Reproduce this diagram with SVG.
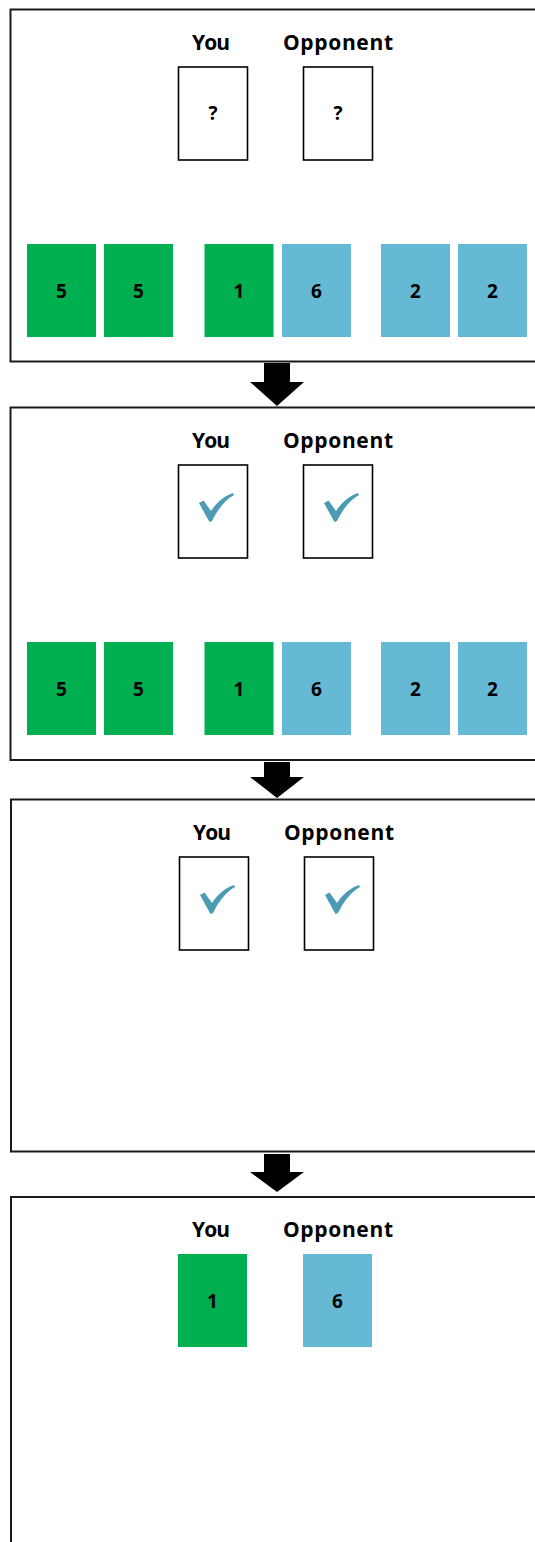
<svg xmlns="http://www.w3.org/2000/svg" width="535" height="1542" viewBox="0 0 535 1542">
<defs>
<style>
.frame{fill:#fff;stroke:#1a1a1a;stroke-width:2}
.blank{fill:#fff;stroke:#000;stroke-width:1.6}
.green{fill:#00B050}
.blue{fill:#65B9D4}
.lbl{font-family:"Open Sans","Liberation Sans",sans-serif;font-weight:bold;font-size:21px;fill:#000;text-anchor:middle}
.num{font-family:"Open Sans","Liberation Sans",sans-serif;font-weight:bold;font-size:19px;fill:#000;text-anchor:middle}
.arrow{fill:#000}
.check{fill:#4A9BB3}
</style>
<path id="chk" d="M0,9 L4.5,6.5 L12,17 C18,8 25,2 34,-1 L35,1 C26,6 19,15 13,27 L10.5,28 Z"/>
</defs>
<rect width="535" height="1542" fill="#fff"/>

<g id="frame1">
<rect class="frame" x="10.5" y="9.5" width="540" height="352"/>
<text class="lbl" x="211" y="49.5" textLength="38">You</text>
<text class="lbl" x="338" y="49.5" textLength="110">Opponent</text>
<g id="f1-you-card"><rect class="blank" x="178.5" y="67" width="69" height="93"/><text class="num" x="213" y="120">?</text></g>
<g id="f1-opp-card"><rect class="blank" x="303.5" y="67" width="69" height="93"/><text class="num" x="338" y="120">?</text></g>
<g id="f1-c1"><rect class="green" x="27" y="244" width="69" height="93"/><text class="num" x="61.5" y="297.5">5</text></g>
<g id="f1-c2"><rect class="green" x="104" y="244" width="69" height="93"/><text class="num" x="138.5" y="297.5">5</text></g>
<g id="f1-c3"><rect class="green" x="204.5" y="244" width="69" height="93"/><text class="num" x="239" y="297.5">1</text></g>
<g id="f1-c4"><rect class="blue" x="282" y="244" width="69" height="93"/><text class="num" x="316.5" y="297.5">6</text></g>
<g id="f1-c5"><rect class="blue" x="381" y="244" width="69" height="93"/><text class="num" x="415.5" y="297.5">2</text></g>
<g id="f1-c6"><rect class="blue" x="458" y="244" width="69" height="93"/><text class="num" x="492.5" y="297.5">2</text></g>
</g>

<g id="frame2">
<rect class="frame" x="10.5" y="407.5" width="540" height="352.5"/>
<text class="lbl" x="211" y="447.5" textLength="38">You</text>
<text class="lbl" x="338" y="447.5" textLength="110">Opponent</text>
<g id="f2-you-card"><rect class="blank" x="178.5" y="465" width="69" height="93"/><use href="#chk" class="check" x="199" y="494"/></g>
<g id="f2-opp-card"><rect class="blank" x="303.5" y="465" width="69" height="93"/><use href="#chk" class="check" x="324" y="494"/></g>
<g id="f2-c1"><rect class="green" x="27" y="642" width="69" height="93"/><text class="num" x="61.5" y="695.5">5</text></g>
<g id="f2-c2"><rect class="green" x="104" y="642" width="69" height="93"/><text class="num" x="138.5" y="695.5">5</text></g>
<g id="f2-c3"><rect class="green" x="204.5" y="642" width="69" height="93"/><text class="num" x="239" y="695.5">1</text></g>
<g id="f2-c4"><rect class="blue" x="282" y="642" width="69" height="93"/><text class="num" x="316.5" y="695.5">6</text></g>
<g id="f2-c5"><rect class="blue" x="381" y="642" width="69" height="93"/><text class="num" x="415.5" y="695.5">2</text></g>
<g id="f2-c6"><rect class="blue" x="458" y="642" width="69" height="93"/><text class="num" x="492.5" y="695.5">2</text></g>
</g>

<g id="frame3">
<rect class="frame" x="11" y="799.5" width="540" height="352"/>
<text class="lbl" x="212" y="839.5" textLength="38">You</text>
<text class="lbl" x="339" y="839.5" textLength="110">Opponent</text>
<g id="f3-you-card"><rect class="blank" x="179.5" y="857" width="69" height="93"/><use href="#chk" class="check" x="200" y="886"/></g>
<g id="f3-opp-card"><rect class="blank" x="304.5" y="857" width="69" height="93"/><use href="#chk" class="check" x="325" y="886"/></g>
</g>

<g id="frame4">
<rect class="frame" x="11" y="1197" width="540" height="400"/>
<text class="lbl" x="211" y="1236.5" textLength="38">You</text>
<text class="lbl" x="338" y="1236.5" textLength="110">Opponent</text>
<g id="f4-you-card"><rect class="green" x="178" y="1254" width="69" height="93"/><text class="num" x="212.5" y="1307.5">1</text></g>
<g id="f4-opp-card"><rect class="blue" x="303" y="1254" width="69" height="93"/><text class="num" x="337.5" y="1307.5">6</text></g>
</g>

<g id="connectors">
<polygon class="arrow" points="264,363 290,363 290,382 304,382 277,406 250,382 264,382"/>
<polygon class="arrow" points="264,762 290,762 290,777 304,777 277,798 250,777 264,777"/>
<polygon class="arrow" points="264,1154 290,1154 290,1172 304,1172 277,1192 250,1172 264,1172"/>
</g>
</svg>
